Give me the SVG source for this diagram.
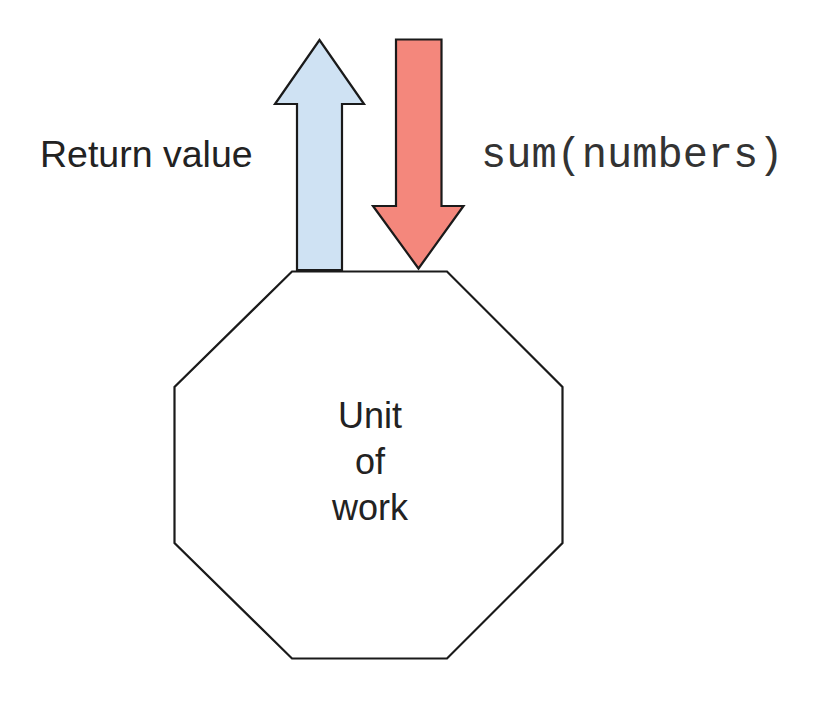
<svg xmlns="http://www.w3.org/2000/svg" width="817" height="703" viewBox="0 0 817 703">
<style>
.shape{stroke:#1a1a1a;stroke-width:2.2;stroke-linejoin:miter}
.lbl{font-family:"Liberation Sans",Arial,sans-serif;font-size:36px;fill:#222}
.mono{font-family:"Liberation Mono","Courier New",monospace;font-size:42px;fill:#333}
</style>
<rect width="817" height="703" fill="#fff"/>
<g id="connectors">
<polygon class="shape" fill="#cfe2f3" points="297,270 297,104 275,104 319.5,40 364,104 342,104 342,270"/>
<polygon class="shape" fill="#f4877c" points="396,39.5 441.5,39.5 441.5,206 463.5,206 418.5,268.5 373,206 396,206"/>
</g>
<g id="unit-of-work">
<polygon class="shape" fill="#fff" points="292,271.5 447,271.5 562.5,387 562.5,543 447,658.5 292,658.5 174.5,543 174.5,387"/>
<text class="lbl" x="370" y="428" text-anchor="middle">Unit</text>
<text class="lbl" x="370" y="474" text-anchor="middle">of</text>
<text class="lbl" x="370" y="520" text-anchor="middle">work</text>
</g>
<g id="return-label">
<text class="lbl" x="40" y="166.5" style="font-size:37.5px">Return value</text>
</g>
<g id="sum-label">
<text class="mono" x="481" y="166.5">sum(numbers)</text>
</g>
</svg>
